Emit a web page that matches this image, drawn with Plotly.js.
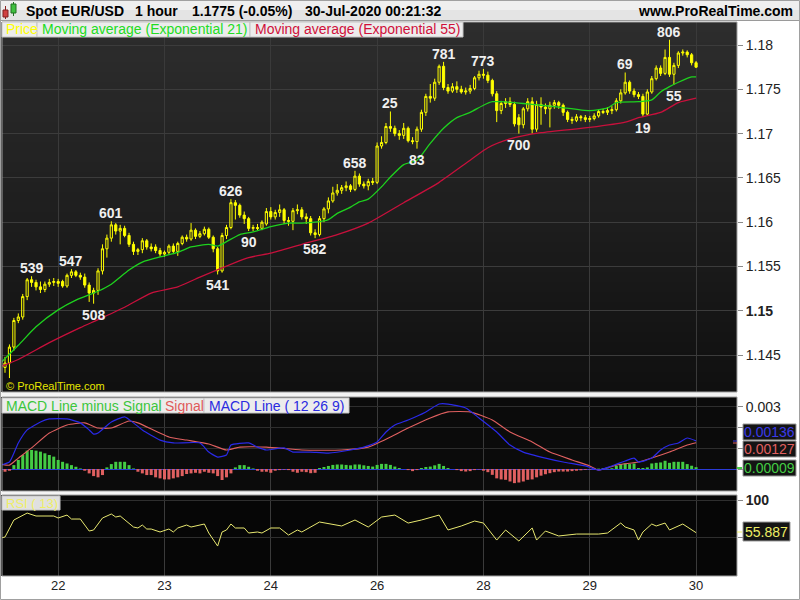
<!DOCTYPE html>
<html><head><meta charset="utf-8">
<script src="https://cdn.plot.ly/plotly-3.0.1.min.js"></script>
<style>html,body{margin:0;padding:0;background:#fff;overflow:hidden}#chart{width:800px;height:600px}</style>
</head><body><div id="chart"></div><script>
// ---------------- DATA ----------------
const dayLabels = ['22','23','24','26','28','29','30'];
const dayBars   = [12, 36, 60, 84, 108, 132, 156];

const opens = [1.1436,1.1441,1.1459,1.1489,1.1493,1.1516,1.1535,1.1532,1.1527,1.1524,1.1530,1.1532,1.1533,1.1533,1.1528,1.1540,1.1544,1.1540,1.1538,1.1529,
1.1520,1.1523,1.1545,1.1570,1.1582,1.1597,1.1590,1.1593,1.1585,1.1575,1.1567,1.1569,1.1579,1.1572,1.1572,1.1568,1.1564,1.1566,1.1573,1.1567,
1.1576,1.1583,1.1581,1.1591,1.1584,1.1587,1.1592,1.1583,1.1570,1.1545,1.1585,1.1594,1.1622,1.1619,1.1608,1.1604,1.1593,1.1594,1.1593,1.1598,
1.1612,1.1606,1.1611,1.1614,1.1602,1.1601,1.1613,1.1614,1.1606,1.1604,1.1588,1.1586,1.1604,1.1615,1.1624,1.1633,1.1636,1.1639,1.1641,1.1637,
1.1652,1.1643,1.1641,1.1646,1.1645,1.1686,1.1690,1.1708,1.1706,1.1700,1.1698,1.1706,1.1692,1.1691,1.1705,1.1724,1.1742,1.1740,1.1758,1.1776,
1.1752,1.1748,1.1753,1.1750,1.1747,1.1748,1.1751,1.1763,1.1767,1.1766,1.1760,1.1745,1.1726,1.1734,1.1736,1.1733,1.1718,1.1710,1.1728,1.1736,
1.1705,1.1733,1.1730,1.1728,1.1732,1.1735,1.1732,1.1724,1.1716,1.1715,1.1719,1.1718,1.1716,1.1717,1.1720,1.1725,1.1724,1.1726,1.1727,1.1737,
1.1746,1.1758,1.1748,1.1744,1.1742,1.1722,1.1747,1.1762,1.1774,1.1768,1.1786,1.1767,1.1777,1.1791,1.1792,1.1789,1.1780];
const highs = [1.1448,1.1462,1.1492,1.1497,1.1519,1.1537,1.1539,1.1535,1.1533,1.1533,1.1536,1.1537,1.1536,1.1535,1.1542,1.1547,1.1546,1.1543,1.1542,1.1532,
1.1526,1.1548,1.1575,1.1586,1.1601,1.1599,1.1597,1.1596,1.1588,1.1578,1.1571,1.1582,1.1581,1.1576,1.1575,1.1571,1.1568,1.1575,1.1576,1.1578,
1.1585,1.1586,1.1599,1.1593,1.1590,1.1595,1.1594,1.1585,1.1572,1.1588,1.1597,1.1626,1.1625,1.1621,1.1612,1.1606,1.1597,1.1598,1.1602,1.1616,
1.1617,1.1614,1.1620,1.1616,1.1606,1.1616,1.1620,1.1617,1.1610,1.1607,1.1592,1.1607,1.1617,1.1628,1.1640,1.1643,1.1642,1.1646,1.1643,1.1658,
1.1655,1.1646,1.1649,1.1650,1.1690,1.1697,1.1712,1.1725,1.1709,1.1704,1.1712,1.1708,1.1696,1.1708,1.1727,1.1745,1.1756,1.1762,1.1778,1.1781,
1.1756,1.1757,1.1759,1.1754,1.1752,1.1755,1.1765,1.1771,1.1773,1.1770,1.1762,1.1748,1.1737,1.1740,1.1741,1.1736,1.1722,1.1730,1.1740,1.1741,
1.1737,1.1741,1.1734,1.1736,1.1738,1.1737,1.1734,1.1726,1.1719,1.1722,1.1721,1.1721,1.1720,1.1723,1.1727,1.1728,1.1730,1.1731,1.1740,1.1750,
1.1769,1.1760,1.1751,1.1747,1.1745,1.1750,1.1765,1.1777,1.1777,1.1795,1.1806,1.1780,1.1793,1.1795,1.1794,1.1791,1.1782];
const lows = [1.1430,1.1424,1.1455,1.1486,1.1490,1.1512,1.1527,1.1523,1.1520,1.1521,1.1527,1.1528,1.1527,1.1526,1.1526,1.1537,1.1538,1.1535,1.1526,1.1510,
1.1508,1.1518,1.1541,1.1560,1.1578,1.1586,1.1575,1.1583,1.1572,1.1563,1.1563,1.1565,1.1569,1.1567,1.1565,1.1561,1.1561,1.1564,1.1564,1.1562,
1.1574,1.1578,1.1579,1.1581,1.1582,1.1585,1.1581,1.1566,1.1541,1.1543,1.1581,1.1592,1.1603,1.1605,1.1598,1.1590,1.1590,1.1591,1.1591,1.1596,
1.1603,1.1603,1.1606,1.1598,1.1596,1.1591,1.1609,1.1603,1.1598,1.1585,1.1582,1.1584,1.1600,1.1610,1.1622,1.1630,1.1632,1.1635,1.1634,1.1635,
1.1640,1.1638,1.1636,1.1642,1.1643,1.1683,1.1688,1.1702,1.1697,1.1693,1.1694,1.1690,1.1688,1.1683,1.1702,1.1720,1.1735,1.1737,1.1755,1.1749,
1.1745,1.1746,1.1746,1.1745,1.1744,1.1745,1.1749,1.1760,1.1762,1.1757,1.1742,1.1713,1.1722,1.1729,1.1730,1.1708,1.1700,1.1706,1.1725,1.1700,
1.1702,1.1710,1.1722,1.1707,1.1728,1.1728,1.1720,1.1713,1.1711,1.1713,1.1714,1.1713,1.1713,1.1715,1.1718,1.1722,1.1721,1.1722,1.1725,1.1734,
1.1744,1.1745,1.1741,1.1739,1.1719,1.1720,1.1745,1.1760,1.1765,1.1766,1.1764,1.1755,1.1774,1.1788,1.1786,1.1777,1.1774];
const closes = [1.1441,1.1459,1.1489,1.1493,1.1516,1.1535,1.1532,1.1527,1.1524,1.1530,1.1532,1.1533,1.1531,1.1528,1.1540,1.1544,1.1540,1.1538,1.1529,1.1520,
1.1523,1.1545,1.1570,1.1582,1.1597,1.1590,1.1593,1.1585,1.1575,1.1567,1.1569,1.1579,1.1572,1.1570,1.1568,1.1564,1.1566,1.1573,1.1567,1.1576,
1.1583,1.1581,1.1591,1.1584,1.1587,1.1592,1.1583,1.1570,1.1545,1.1585,1.1594,1.1622,1.1619,1.1608,1.1604,1.1593,1.1594,1.1593,1.1600,1.1612,
1.1606,1.1611,1.1614,1.1602,1.1601,1.1613,1.1614,1.1606,1.1604,1.1588,1.1586,1.1604,1.1615,1.1624,1.1633,1.1636,1.1639,1.1641,1.1637,1.1652,
1.1643,1.1641,1.1646,1.1645,1.1686,1.1690,1.1708,1.1706,1.1700,1.1698,1.1706,1.1692,1.1691,1.1705,1.1724,1.1742,1.1740,1.1758,1.1776,1.1752,
1.1748,1.1753,1.1750,1.1747,1.1748,1.1751,1.1763,1.1767,1.1766,1.1760,1.1745,1.1726,1.1734,1.1736,1.1733,1.1711,1.1710,1.1728,1.1736,1.1705,
1.1733,1.1730,1.1728,1.1732,1.1735,1.1732,1.1724,1.1716,1.1715,1.1719,1.1718,1.1716,1.1717,1.1720,1.1725,1.1724,1.1726,1.1727,1.1737,1.1746,
1.1758,1.1748,1.1744,1.1742,1.1722,1.1747,1.1762,1.1774,1.1768,1.1786,1.1767,1.1777,1.1791,1.1792,1.1789,1.1780,1.1775];

// swing labels (text, bar, side: h = above high, l = below low)
const swingText = ['539','547','508','601','541','626','90','582','658','25','83','781','773','700','69','19','806','55'];
const swingBar  = [6,15,20,24,48,51,55,70,79,87,93,99,108,116,140,144,150,151];
const swingSide = ['h','h','l','h','l','h','l','l','h','h','l','h','h','l','h','l','h','l'];

// moving averages (bar, value)
const ema21Bar = [-1,3,7,12,16,21,24,28,31,36,39,42,46,48,50,53,56,60,64,67,70,73,75,78,80,82,85,87,90,93,96,99,102,105,108,110,112,117,121,125,132,136,138,143,146,148,150,152,155,156];
const ema21Val = [1.1441,1.1461,1.1482,1.1501,1.1512,1.1522,1.1530,1.1546,1.1555,1.1562,1.1566,1.1572,1.1575,1.1573,1.1578,1.1586,1.1589,1.1595,1.1599,1.1599,1.1600,1.1603,1.1610,1.1617,1.1623,1.1626,1.1640,1.1651,1.1665,1.1670,1.1689,1.1706,1.1718,1.1724,1.1732,1.1736,1.1736,1.1734,1.1732,1.1730,1.1726,1.1729,1.1735,1.1736,1.1738,1.1747,1.1753,1.1758,1.1764,1.1764];
const ema55Bar = [-1,3,10,17,21,27,33,39,44,55,60,67,75,82,90,98,105,109,114,121,132,140,143,148,152,156];
const ema55Val = [1.1437,1.1445,1.1464,1.1481,1.1490,1.1504,1.1520,1.1527,1.1538,1.1560,1.1565,1.1575,1.1586,1.1599,1.1622,1.1645,1.1670,1.1684,1.1694,1.1701,1.1707,1.1713,1.1718,1.1724,1.1735,1.1740];

// MACD (12 26 9)
const macdBar = [-1,1,3,5,8,10,14,17,19,20,21,24,27,29,31,35,38,44,46,48,50,51,55,57,59,63,65,67,69,73,78,81,84,86,88,91,95,98,100,104,107,111,114,117,122,126,131,134,137,140,142,143,146,148,150,152,154,156];
const macdVal = [0.00019,0.00034,0.00126,0.00189,0.00227,0.00242,0.00242,0.00223,0.00189,0.00169,0.00174,0.00227,0.00252,0.00223,0.00189,0.00140,0.00126,0.00126,0.00082,0.00058,0.00068,0.00116,0.00126,0.00106,0.00092,0.00102,0.00082,0.00082,0.00082,0.00077,0.00092,0.00106,0.00131,0.00179,0.00213,0.00237,0.00276,0.00314,0.00314,0.00295,0.00247,0.00179,0.00116,0.00082,0.00053,0.00034,0.00015,-0.00005,0.00015,0.00039,0.00053,0.00034,0.00053,0.00092,0.00116,0.00126,0.00150,0.00136];
const signalBar = [-1,1,3,6,10,14,18,21,24,28,30,37,41,46,50,53,59,67,76,82,87,91,96,100,105,110,114,119,123,128,132,134,138,143,146,150,154,156];
const signalVal = [0.00024,0.00019,0.00053,0.00102,0.00174,0.00213,0.00223,0.00198,0.00198,0.00232,0.00223,0.00155,0.00140,0.00121,0.00092,0.00106,0.00106,0.00092,0.00092,0.00106,0.00155,0.00198,0.00247,0.00276,0.00276,0.00237,0.00179,0.00131,0.00082,0.00044,0.00015,-0.00005,0.00019,0.00034,0.00053,0.00082,0.00116,0.00127];
const histVal = [-0.00013,-0.00008,0.00019,0.00044,0.00068,0.00089,0.00092,0.00089,0.00084,0.00076,0.00068,0.00060,0.00044,0.00035,0.00027,0.00019,0.00011,0.00003,-0.00008,-0.00021,
-0.00034,-0.00040,-0.00029,0.00008,0.00024,0.00035,0.00035,0.00035,0.00019,0.00003,-0.00013,-0.00021,-0.00029,-0.00029,-0.00040,-0.00045,-0.00050,-0.00050,-0.00045,-0.00040,
-0.00034,-0.00024,-0.00021,-0.00018,-0.00021,-0.00013,-0.00018,-0.00021,-0.00034,-0.00053,-0.00040,-0.00021,0.00008,0.00019,0.00019,0.00011,0.00003,-0.00008,-0.00013,-0.00013,
-0.00018,-0.00008,-0.00005,-0.00003,-0.00005,-0.00013,-0.00018,-0.00013,-0.00015,-0.00020,-0.00018,0.00005,0.00010,0.00015,0.00020,0.00022,0.00022,0.00020,0.00018,0.00022,
0.00022,0.00018,0.00015,0.00012,0.00020,0.00025,0.00025,0.00020,0.00012,0.00005,0.00000,-0.00005,-0.00010,-0.00005,0.00005,0.00010,0.00012,0.00018,0.00025,0.00015,
0.00005,0.00000,-0.00005,-0.00010,-0.00012,-0.00010,-0.00005,-0.00002,-0.00008,-0.00015,-0.00028,-0.00045,-0.00050,-0.00052,-0.00060,-0.00068,-0.00065,-0.00060,-0.00052,-0.00050,
-0.00040,-0.00032,-0.00025,-0.00020,-0.00015,-0.00012,-0.00012,-0.00012,-0.00010,-0.00008,-0.00006,-0.00004,-0.00002,0.00000,0.00002,0.00004,0.00002,0.00004,0.00015,0.00024,
0.00027,0.00024,0.00027,0.00005,0.00005,0.00008,0.00027,0.00030,0.00032,0.00040,0.00030,0.00035,0.00035,0.00035,0.00024,0.00016,0.00009];

// RSI (13)
const rsiBar = [-1,0,2,5,7,9,11,12,14,15,17,19,20,22,24,25,26,29,30,31,32,33,35,37,38,39,41,42,45,46,48,49,50,51,52,54,55,57,58,60,62,64,66,67,71,76,79,82,85,88,91,94,98,100,103,106,108,111,113,116,119,120,122,125,129,132,134,136,139,140,142,143,144,146,147,149,150,153,156];
const rsiVal = [48.6,50,73,82.4,78.4,78.4,78.4,75.7,79.7,74.3,74.3,58.1,59.5,75.7,81.1,77,78.4,63.5,62.2,66.2,60.8,60.8,56.8,60.8,56.8,62.2,66.2,63.5,67.6,55.4,37.8,56.8,59.5,67.6,62.2,62.2,55.4,56.8,55.4,62.2,62.2,52.7,59.5,56.8,70.3,64.9,73,63.5,77,79.7,68.9,73,79.7,59.5,64.9,71.6,68.9,45.9,59.5,44.6,62.2,45.9,58.1,51.4,54,54,54,55.4,68.9,63.5,59.5,45.9,56.8,67.6,64.9,68.9,59.5,67.6,55.887];

// ---------------- LAYOUT HELPERS ----------------
const PX = x => (x - 2) / 735;      // pixel -> paper x
const PY = y => (576 - y) / 554;    // pixel -> paper y
const FONT = 'Liberation Sans, Arial, sans-serif';
const bars = closes.map((_, i) => i);

const shapes = [];
const ann = [];
function rect(x0, y0, x1, y1, fill, line, layer) {
  shapes.push({type:'rect', xref:'paper', yref:'paper', x0:PX(x0), x1:PX(x1), y0:PY(y1), y1:PY(y0),
    fillcolor: fill || 'rgba(0,0,0,0)', line:{color: line || 'rgba(0,0,0,0)', width: line ? 1 : 0}, layer: layer || 'below'});
}
function seg(x0, y0, x1, y1, color, w, layer) {
  shapes.push({type:'line', xref:'paper', yref:'paper', x0:PX(x0), x1:PX(x1), y0:PY(y0), y1:PY(y1),
    line:{color:color, width:w || 1}, layer: layer || 'above'});
}
function text(x, y, t, size, color, anchor, bold) {
  ann.push({xref:'paper', yref:'paper', x:PX(x), y:PY(y), text: bold ? '<b>' + t + '</b>' : t, showarrow:false,
    xanchor: anchor || 'left', yanchor:'middle', font:{family:FONT, size:size, color:color}});
}

// header
rect(0, 0, 800, 20, '#e4e4e4', null);
rect(0, 0, 800, 10, '#efefef', null);
seg(0, 20.5, 800, 20.5, '#9a9a9a', 1, 'below');
// icon
seg(5.5, 6, 5.5, 19, '#8a2020', 1, 'above');
rect(3, 10, 8, 17, '#d04040', '#802020', 'above');
seg(13.5, 2, 13.5, 16, '#207020', 1, 'above');
rect(11, 4, 16, 13, '#40c040', '#207020', 'above');
text(24, 11, 'Spot EUR/USD', 14, '#000', 'left', true);
text(133, 11, '1 hour', 14, '#000', 'left', true);
text(190, 11, '1.1775 (-0.05%)', 14, '#000', 'left', true);
text(303, 11, '30-Jul-2020 00:21:32', 14, '#000', 'left', true);
text(795, 11, 'www.ProRealTime.com', 14, '#000', 'right', true);

// main panel gradient background
for (let k = 0; k < 37; k++) {
  const y0 = 22 + k * 10, y1 = Math.min(392, y0 + 10);
  const c = Math.round(45 - (k / 36) * 29);
  rect(0, y0, 737, y1, `rgb(${c},${c},${c})`, null);
}
rect(2, 22, 737, 392, null, '#a0a0a0', 'above');
// separators / sub panel backgrounds
rect(0, 392, 737, 397, '#f4f4f4', null);
rect(0, 397, 737, 491, '#0b0b0b', null);
rect(2, 397, 737, 491, null, '#a0a0a0', 'above');
rect(0, 491, 737, 495, '#f4f4f4', null);
rect(0, 495, 737, 576, '#060606', null);
rect(2, 495, 737, 576, null, '#a0a0a0', 'above');
rect(0.5, 0.5, 799.5, 599.5, null, '#a0a0a0', 'above');

// legend boxes (main)
rect(2, 22, 37, 37, '#ececec', '#c4c4c4', 'above');
rect(37, 22, 250, 37, '#ececec', '#c4c4c4', 'above');
rect(250, 22, 463, 37, '#ececec', '#c4c4c4', 'above');
text(4, 29.5, 'Price', 14, '#ffff00');
text(40, 29.5, 'Moving average (Exponential 21)', 14, '#22dd22');
text(253, 29.5, 'Moving average (Exponential 55)', 14, '#d0103a');
text(4, 386, '© ProRealTime.com', 11, '#e6e600');
// legend boxes (MACD)
rect(2, 398, 160, 413, '#ececec', '#c4c4c4', 'above');
rect(160, 398, 204, 413, '#ececec', '#c4c4c4', 'above');
rect(204, 398, 349, 413, '#ececec', '#c4c4c4', 'above');
text(4, 405.5, 'MACD Line minus Signal', 14, '#3cc63c');
text(163, 405.5, 'Signal', 14, '#e05a5a');
text(207, 405.5, 'MACD Line ( 12 26 9)', 14, '#2a2ae0');
// legend box (RSI)
rect(2, 496, 60, 510, '#e0e0e0', '#c4c4c4', 'above');
text(4, 503, 'RSI ( 13)', 13, '#eeee66');

// value boxes on right
const lastMacd = macdVal[macdVal.length - 1];
const lastSignal = signalVal[signalVal.length - 1];
const lastHist = histVal[histVal.length - 1];
const lastRsi = rsiVal[rsiVal.length - 1];
rect(743, 424, 796, 440, '#141414', '#9a9a9a', 'above');
rect(743, 441, 796, 457, '#141414', '#9a9a9a', 'above');
rect(743, 460, 796, 476, '#141414', '#9a9a9a', 'above');
text(769.5, 432, lastMacd.toFixed(5), 14, '#3a3ae8', 'center');
text(769.5, 449, lastSignal.toFixed(5), 14, '#e06060', 'center');
text(769.5, 468, lastHist.toFixed(5), 14, '#44cc44', 'center');
rect(743, 522, 790, 541, '#141414', '#9a9a9a', 'above');
text(766.5, 531.5, lastRsi.toFixed(3), 14, '#eeee66', 'center');
seg(733, 441, 737, 441, '#3a3ae8', 1);
seg(733, 443, 737, 443, '#e06060', 1);
seg(737, 468, 742, 468, '#44cc44', 2);
seg(737, 532, 742, 532, '#eeee66', 1);

// swing annotations from data
swingText.forEach((t, k) => {
  const b = swingBar[k], hi = swingSide[k] === 'h';
  ann.push({xref:'x', yref:'y', x:b, y: hi ? highs[b] : lows[b], text:'<b>' + t + '</b>', showarrow:false,
    xanchor:'center', yanchor:'middle', yshift: hi ? 8 : -11, font:{family:FONT, size:14, color:'#f0f0f0'}});
});

// ---------------- TRACES ----------------
const traces = [
  {type:'scatter', mode:'lines', x:ema55Bar, y:ema55Val, xaxis:'x', yaxis:'y', line:{color:'#c8103c', width:1.3, shape:'spline', smoothing:0.6}, hoverinfo:'skip'},
  {type:'scatter', mode:'lines', x:ema21Bar, y:ema21Val, xaxis:'x', yaxis:'y', line:{color:'#1ed21e', width:1.3, shape:'spline', smoothing:0.6}, hoverinfo:'skip'},
  {type:'candlestick', x:bars, open:opens, high:highs, low:lows, close:closes, xaxis:'x', yaxis:'y', whiskerwidth:0,
    increasing:{line:{color:'#ffff00', width:1}, fillcolor:'rgba(0,0,0,0)'},
    decreasing:{line:{color:'#ffff00', width:1}, fillcolor:'#ffff00'}, hoverinfo:'skip'},
  {type:'bar', x:bars, y:histVal, xaxis:'x', yaxis:'y2', width:0.68,
    marker:{color: histVal.map(v => v >= 0 ? '#44cc44' : '#e06060'), line:{width:0}}, hoverinfo:'skip'},
  {type:'scatter', mode:'lines', x:signalBar, y:signalVal, xaxis:'x', yaxis:'y2', line:{color:'#e06060', width:1.1, shape:'spline', smoothing:0.5}, hoverinfo:'skip'},
  {type:'scatter', mode:'lines', x:macdBar, y:macdVal, xaxis:'x', yaxis:'y2', line:{color:'#2a2ae8', width:1.2, shape:'spline', smoothing:0.5}, hoverinfo:'skip'},
  {type:'scatter', mode:'lines', x:rsiBar, y:rsiVal, xaxis:'x', yaxis:'y3', line:{color:'#e8e870', width:1}, hoverinfo:'skip'}
];

const priceTicks = [1.145,1.15,1.155,1.16,1.165,1.17,1.175,1.18];
const priceText = priceTicks.map(v => v === 1.15 ? '<b>1.15</b>' : String(v));

const layout = {
  width:800, height:600, margin:{l:2, r:63, t:22, b:24},
  paper_bgcolor:'#ffffff', plot_bgcolor:'rgba(0,0,0,0)', showlegend:false, bargap:0.3,
  font:{family:FONT, color:'#222'},
  xaxis:{range:[-0.68, 165.24], anchor:'y3', tickvals:dayBars, ticktext:dayLabels, ticks:'', showgrid:true, gridcolor:'#3a3a3a',
    zeroline:false, showline:false, tickfont:{size:13, color:'#222'}, rangeslider:{visible:false}, fixedrange:true},
  yaxis:{domain:[PY(392), 1], range:[1.14083, 1.1826], side:'right', anchor:'x', tickvals:priceTicks, ticktext:priceText,
    ticks:'outside', ticklen:5, tickcolor:'#888', showgrid:true, gridcolor:'#3c3c3c', zeroline:false, tickfont:{size:14, color:'#222'}},
  yaxis2:{domain:[PY(491), PY(397)], range:[-0.00106, 0.00348], side:'right', anchor:'x', tickvals:[0,0.001,0.002,0.003],
    ticktext:['','','','0.003'], ticks:'outside', ticklen:5, tickcolor:'#888', showgrid:true, gridcolor:'#2e2e2e',
    zeroline:true, zerolinecolor:'#2b3bd8', zerolinewidth:1, tickfont:{size:14, color:'#222'}},
  yaxis3:{domain:[0, PY(495)], range:[-2.7, 106.8], side:'right', anchor:'x', tickvals:[50,100], ticktext:['','<b>100</b>'],
    ticks:'outside', ticklen:5, tickcolor:'#888', showgrid:true, gridcolor:'#2e2e2e', zeroline:false, tickfont:{size:14, color:'#222'}},
  shapes: shapes, annotations: ann
};

Plotly.newPlot('chart', traces, layout, {staticPlot:true, displayModeBar:false});
</script></body></html>
